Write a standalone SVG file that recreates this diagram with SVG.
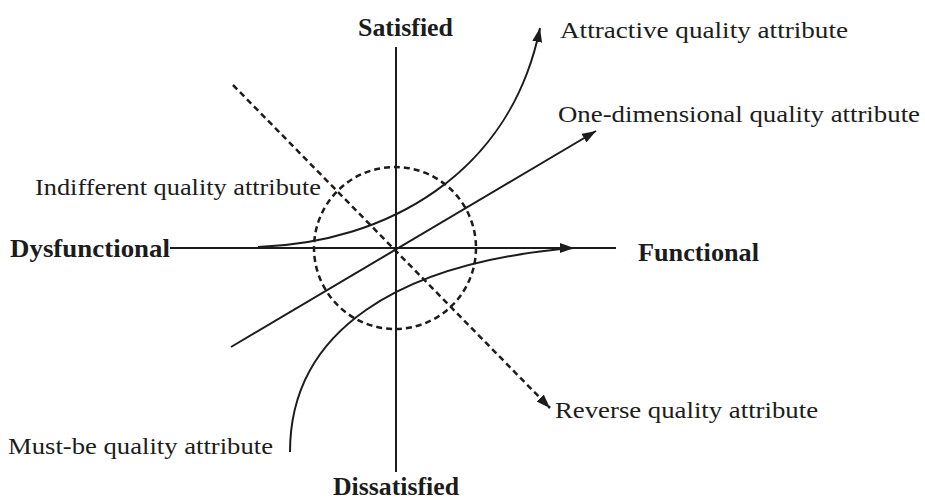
<svg xmlns="http://www.w3.org/2000/svg" width="925" height="504" viewBox="0 0 925 504">
<defs>
<style>
.t{font-family:"Liberation Serif","Times New Roman",serif;fill:#1c1c1c;font-size:24px}
.b{font-weight:bold;font-size:25px}
.ln{fill:none;stroke:#1c1c1c;stroke-width:2}
.ds{fill:none;stroke:#1c1c1c;stroke-width:2.5;stroke-dasharray:6 4}
</style>
<marker id="ah" viewBox="0 0 14 10" refX="14" refY="5" markerWidth="14" markerHeight="10" markerUnits="userSpaceOnUse" orient="auto">
<path d="M0,0 L14,5 L0,10 Z" fill="#1c1c1c"/>
</marker>
</defs>
<rect width="925" height="504" fill="#ffffff"/>
<g id="connectors">
<line class="ln" x1="396" y1="47" x2="396" y2="472"/>
<line class="ln" x1="170" y1="248" x2="616" y2="248"/>
<line class="ln" x1="170" y1="248" x2="574" y2="248" marker-end="url(#ah)"/>
<circle class="ds" cx="395" cy="248" r="81"/>
<line class="ds" x1="233" y1="85" x2="550" y2="408" marker-end="url(#ah)"/>
<line class="ln" x1="231" y1="347" x2="596" y2="131" marker-end="url(#ah)"/>
<path class="ln" d="M258,247 C385,243 510,175 540,28" marker-end="url(#ah)"/>
<path class="ln" d="M290,452 C290,330 400,262 574,248"/>
</g>
<g id="satisfied"><text class="t b" x="358" y="36" textLength="95" lengthAdjust="spacingAndGlyphs">Satisfied</text></g>
<g id="dissatisfied"><text class="t b" x="333" y="495" textLength="126" lengthAdjust="spacingAndGlyphs">Dissatisfied</text></g>
<g id="dysfunctional"><text class="t b" x="10" y="257" textLength="160" lengthAdjust="spacingAndGlyphs">Dysfunctional</text></g>
<g id="functional"><text class="t b" x="638" y="261" textLength="121" lengthAdjust="spacingAndGlyphs">Functional</text></g>
<g id="attractive"><text class="t" x="560" y="38" textLength="288" lengthAdjust="spacingAndGlyphs">Attractive quality attribute</text></g>
<g id="one-dimensional"><text class="t" x="558" y="122" textLength="362" lengthAdjust="spacingAndGlyphs">One-dimensional quality attribute</text></g>
<g id="indifferent"><text class="t" x="35" y="195" textLength="286" lengthAdjust="spacingAndGlyphs">Indifferent quality attribute</text></g>
<g id="reverse"><text class="t" x="555" y="418" textLength="263" lengthAdjust="spacingAndGlyphs">Reverse quality attribute</text></g>
<g id="must-be"><text class="t" x="8" y="454" textLength="265" lengthAdjust="spacingAndGlyphs">Must-be quality attribute</text></g>
</svg>
